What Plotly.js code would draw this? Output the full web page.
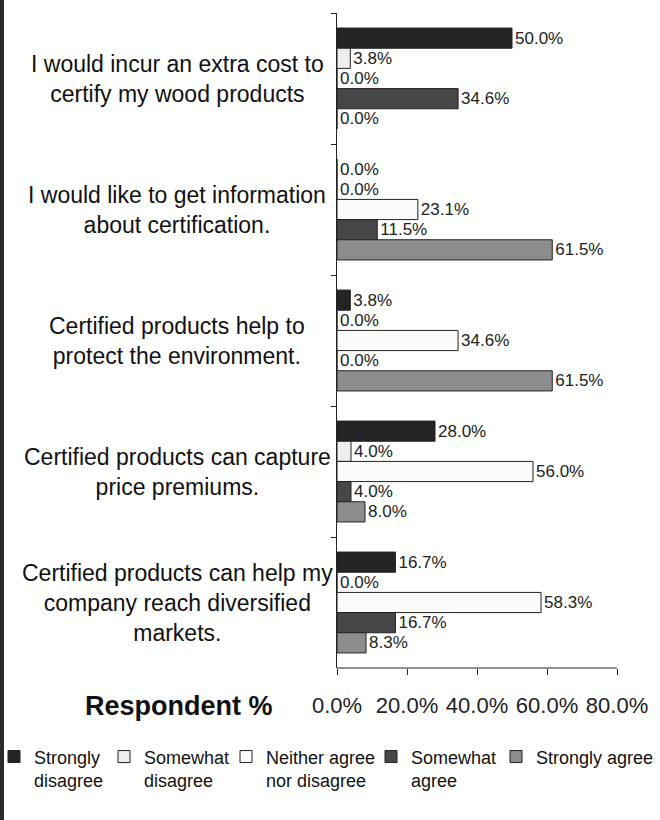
<!DOCTYPE html>
<html>
<head>
<meta charset="utf-8">
<script src="https://cdn.plot.ly/plotly-3.0.1.min.js"></script>
<style>
  html, body { margin: 0; padding: 0; background: #ffffff; }
  #wrap { position: relative; width: 660px; height: 820px; }
  #chart { position: absolute; left: 0; top: 0; width: 660px; height: 820px; }
  #edge { position: absolute; left: 0; top: 0; width: 4px; height: 820px; background: #2a2a2a; z-index: 5; }
</style>
</head>
<body>
<div id="wrap"><div id="chart"></div><div id="edge"></div></div>
<script>
// ---- data ----
const categories = [
  "I would incur an extra cost to<br>certify my wood products",
  "I would like to get information<br>about certification.",
  "Certified products help to<br>protect the environment.",
  "Certified products can capture<br>price premiums.",
  "Certified products can help my<br>company reach diversified<br>markets."
];
const seriesNames = [
  "Strongly<br>disagree",
  "Somewhat<br>disagree",
  "Neither agree<br>nor disagree",
  "Somewhat<br>agree",
  "Strongly agree"
];
const stronglyDisagree = [50.0, 0.0, 3.8, 28.0, 16.7];
const somewhatDisagree = [3.8, 0.0, 0.0, 4.0, 0.0];
const neitherAgree     = [0.0, 23.1, 34.6, 56.0, 58.3];
const somewhatAgree    = [34.6, 11.5, 0.0, 4.0, 16.7];
const stronglyAgree    = [0.0, 61.5, 61.5, 8.0, 8.3];
const xTickValues = [0, 20, 40, 60, 80];
const axisTitle = "Respondent %";

// ---- styling ----
const seriesValues = [stronglyDisagree, somewhatDisagree, neitherAgree, somewhatAgree, stronglyAgree];
const seriesColors = ["#242424", "#eeeeee", "#fbfbfb", "#474747", "#8c8c8c"];
const legendWidths = [65, 77, 100, 80, 117];
const FONT = "'Liberation Sans', Arial, sans-serif";

// plot area: x from 337px; 80% lands at 617px, area runs on to the right edge
const L = 337, PW = 323;
const xMax = xTickValues[xTickValues.length - 1] * PW / 280;
const px2paper = p => (p - L) / PW;

const traces = seriesValues.map((vals, i) => ({
  type: "bar",
  orientation: "h",
  name: seriesNames[i],
  y: categories,
  x: vals,
  marker: { color: seriesColors[i], line: { color: "#222222", width: 1 } },
  texttemplate: "%{x:.1f}%",
  textposition: "outside",
  constraintext: "none",
  cliponaxis: false,
  textfont: { family: FONT, size: 17, color: "#222222" },
  legendwidth: legendWidths[i],
  hoverinfo: "skip"
}));

const annotations = categories.map(c => ({
  xref: "paper", yref: "y",
  x: px2paper(177), y: c,
  text: c,
  showarrow: false,
  xanchor: "center", yanchor: "middle",
  align: "center",
  font: { family: FONT, size: 23, color: "#111111" }
}));
annotations.push({
  xref: "paper", yref: "paper",
  x: px2paper(179), y: -0.058,
  text: "<b>" + axisTitle + "</b>",
  showarrow: false,
  xanchor: "center", yanchor: "middle",
  font: { family: FONT, size: 27, color: "#111111" }
});

const layout = {
  width: 660, height: 820,
  margin: { l: L, r: 660 - L - PW, t: 13, b: 152, pad: 0, autoexpand: false },
  paper_bgcolor: "#ffffff",
  plot_bgcolor: "#ffffff",
  font: { family: FONT, color: "#222222" },
  barmode: "group",
  bargap: 0.23,
  bargroupgap: 0,
  showlegend: true,
  legend: {
    orientation: "h",
    x: px2paper(-6), xanchor: "left",
    y: -0.1074, yanchor: "top",
    font: { family: FONT, size: 18, color: "#111111" },
    valign: "top",
    itemwidth: 30,
    traceorder: "normal",
    bgcolor: "rgba(0,0,0,0)"
  },
  xaxis: {
    range: [0, xMax],
    tickvals: xTickValues,
    ticktext: xTickValues.map(v => v.toFixed(1) + "%"),
    ticks: "outside", ticklen: 6, tickwidth: 1, tickcolor: "#222222",
    ticklabelstandoff: 12,
    showgrid: false, zeroline: false,
    showline: false,
    tickfont: { family: FONT, size: 22, color: "#222222" },
    fixedrange: true
  },
  yaxis: {
    type: "category",
    autorange: "reversed",
    showticklabels: false,
    ticks: "outside", tickson: "boundaries", ticklen: 5, tickwidth: 1, tickcolor: "#222222",
    showgrid: false, zeroline: false,
    showline: true, linecolor: "#222222", linewidth: 1,
    fixedrange: true
  },
  shapes: [{
    type: "line", xref: "x", yref: "paper",
    x0: xTickValues[0], x1: xTickValues[xTickValues.length - 1], y0: 0, y1: 0,
    line: { color: "#222222", width: 1 }
  }],
  annotations: annotations
};

Plotly.newPlot("chart", traces, layout, { displayModeBar: false, staticPlot: true });
</script>
</body>
</html>
